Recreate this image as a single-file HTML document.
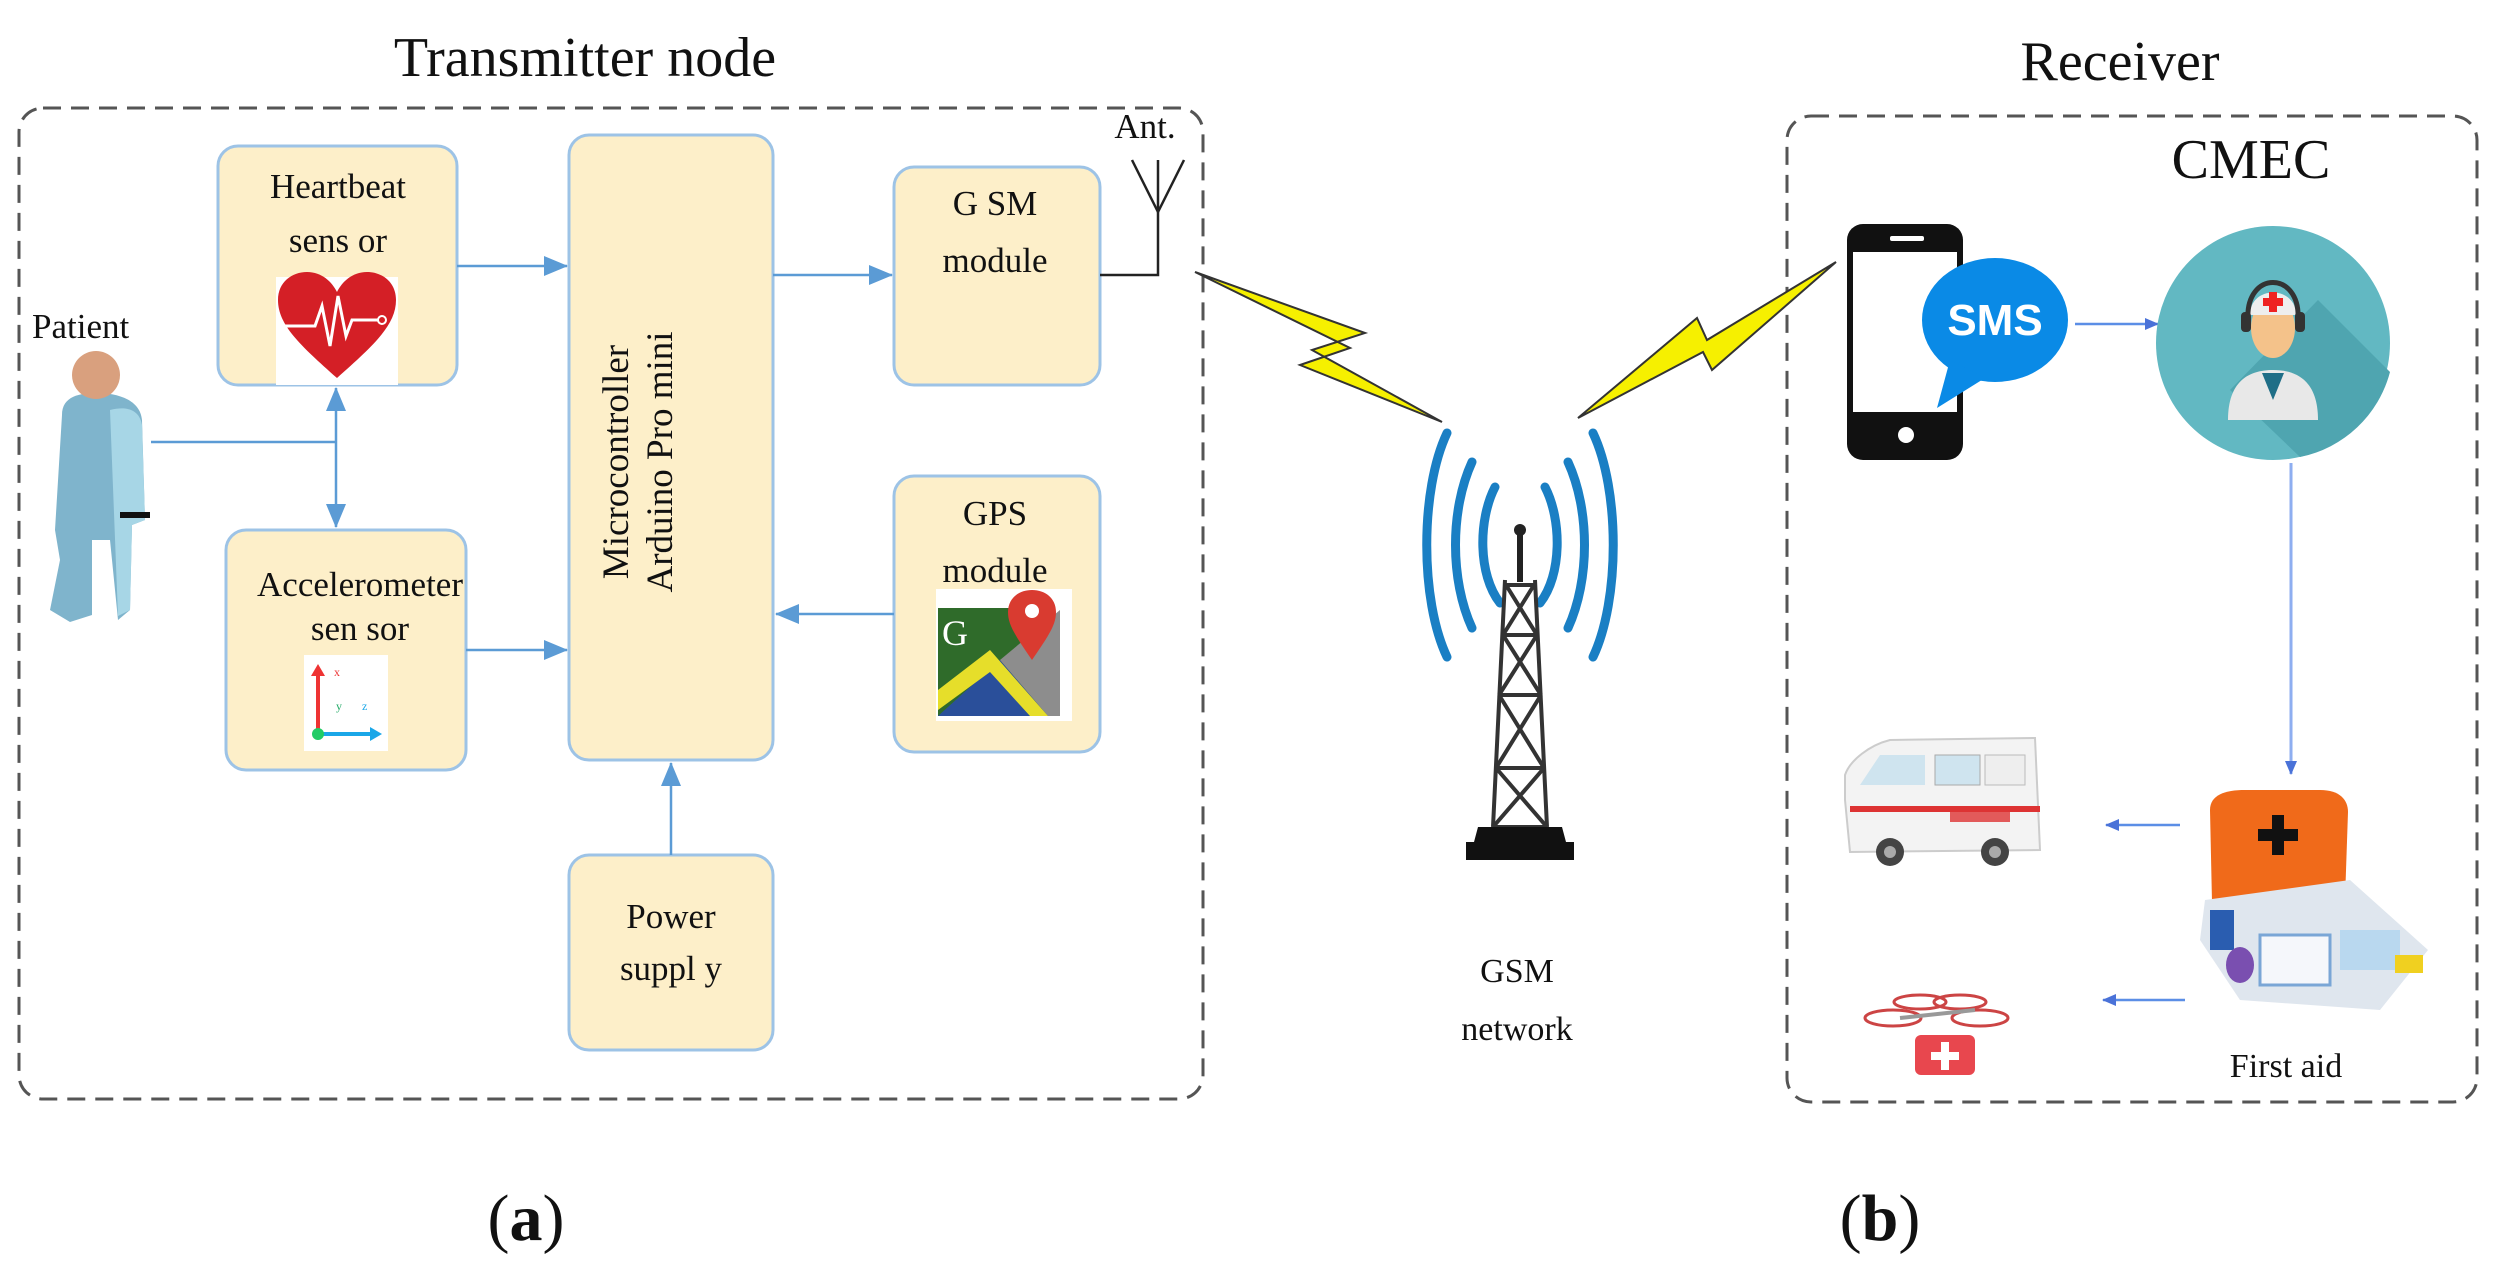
<!DOCTYPE html>
<html><head><meta charset="utf-8"><style>
html,body{margin:0;padding:0;background:#fff;}
svg{display:block;}
text{font-family:"Liberation Serif",serif;fill:#111;}
</style></head><body>
<svg width="2498" height="1279" viewBox="0 0 2498 1279" xmlns="http://www.w3.org/2000/svg">
<defs>
<marker id="ab" markerWidth="24" markerHeight="20" refX="23" refY="10" orient="auto" markerUnits="userSpaceOnUse">
<path d="M0,0 L24,10 L0,20 z" fill="#5b9bd5"/></marker>
<marker id="as" markerWidth="14" markerHeight="12" refX="13" refY="6" orient="auto" markerUnits="userSpaceOnUse">
<path d="M0,0 L14,6 L0,12 z" fill="#4a72d8"/></marker>
</defs>

<text x="585" y="76" font-size="56" text-anchor="middle">Transmitter node</text>
<text x="2120" y="80" font-size="56" text-anchor="middle">Receiver</text>
<text x="2251" y="178" font-size="56" text-anchor="middle">CMEC</text>

<rect x="19" y="108" width="1184" height="991" rx="24" fill="none" stroke="#555" stroke-width="3" stroke-dasharray="18,10"/>
<rect x="1787" y="116" width="690" height="986" rx="24" fill="none" stroke="#555" stroke-width="3" stroke-dasharray="18,10"/>

<g fill="#fdefc9" stroke="#9dc3e6" stroke-width="3">
<rect x="218" y="146" width="239" height="239" rx="20"/>
<rect x="569" y="135" width="204" height="625" rx="20"/>
<rect x="894" y="167" width="206" height="218" rx="20"/>
<rect x="226" y="530" width="240" height="240" rx="20"/>
<rect x="894" y="476" width="206" height="276" rx="20"/>
<rect x="569" y="855" width="204" height="195" rx="20"/>
</g>
<g font-size="35" text-anchor="middle">
<text x="338" y="198">Heartbeat</text>
<text x="338" y="252">sens or</text>
<text x="360" y="596">Accelerometer</text>
<text x="360" y="640">sen sor</text>
<text x="995" y="215">G SM</text>
<text x="995" y="272">module</text>
<text x="995" y="525">GPS</text>
<text x="995" y="582">module</text>
<text x="671" y="928">Power</text>
<text x="671" y="980">suppl y</text>
<text x="32" y="338" text-anchor="start">Patient</text>
<text x="1145" y="138">Ant.</text>
</g>
<text font-size="37" text-anchor="middle" transform="translate(628,462) rotate(-90)">Microcontroller</text>
<text font-size="37" text-anchor="middle" transform="translate(672,462) rotate(-90)">Arduino Pro mini</text>

<rect x="276" y="277" width="122" height="108" fill="#fff"/>
<path d="M337,378 C300,345 278,325 278,300 C278,282 292,272 307,272 C322,272 332,282 337,292 C342,282 352,272 367,272 C382,272 396,282 396,300 C396,325 374,345 337,378Z" fill="#d41f26"/>
<polyline points="282,326 315,326 322,306 330,346 338,296 346,336 352,320 378,320" fill="none" stroke="#fff" stroke-width="3"/>
<circle cx="382" cy="320" r="4" fill="none" stroke="#fff" stroke-width="2"/>

<rect x="304" y="655" width="84" height="96" fill="#fff"/>
<line x1="318" y1="732" x2="318" y2="672" stroke="#e33" stroke-width="4"/>
<path d="M311,676 L318,664 L325,676Z" fill="#e33"/>
<line x1="318" y1="734" x2="374" y2="734" stroke="#1aa7e8" stroke-width="4"/>
<path d="M370,727 L382,734 L370,741Z" fill="#1aa7e8"/>
<circle cx="318" cy="734" r="6" fill="#2c6" />
<text x="334" y="676" font-size="12" style="fill:#e33">x</text>
<text x="336" y="710" font-size="12" style="fill:#2a6">y</text>
<text x="362" y="710" font-size="12" style="fill:#1aa7e8">z</text>

<rect x="936" y="589" width="136" height="132" fill="#fff"/>
<path d="M938,608 L1048,608 L1048,716 L938,716Z" fill="#2f6b2a"/>
<path d="M938,716 L1000,660 L1048,716Z" fill="#2a4f9a"/>
<path d="M1000,660 L1060,610 L1060,716 L1048,716Z" fill="#8d8d8d"/>
<path d="M938,690 L990,650 L1048,716 L1030,716 L990,672 L938,710Z" fill="#e6de2a"/>
<text x="942" y="645" font-size="36" style="fill:#fff">G</text>
<path d="M1032,660 C1015,635 1008,625 1008,612 C1008,598 1019,590 1032,590 C1045,590 1056,598 1056,612 C1056,625 1049,635 1032,660Z" fill="#d93b30"/>
<circle cx="1032" cy="611" r="7" fill="#fff"/>

<g>
<path d="M62,415 C62,396 80,393 97,393 C114,393 140,398 142,420 L145,520 L132,525 L130,610 L118,620 L110,540 L92,540 L92,615 L70,622 L50,610 L60,560 L55,530 Z" fill="#7fb4cc"/>
<path d="M110,410 C130,405 140,412 142,425 L145,520 L132,525 L130,610 L118,616 Z" fill="#a7d6e6"/>
<circle cx="96" cy="375" r="24" fill="#d9a07e"/>
<rect x="120" y="512" width="30" height="6" fill="#111"/>
</g>

<g stroke="#5b9bd5" stroke-width="2.5" fill="none">
<line x1="457" y1="266" x2="567" y2="266" marker-end="url(#ab)"/>
<line x1="466" y1="650" x2="567" y2="650" marker-end="url(#ab)"/>
<line x1="773" y1="275" x2="892" y2="275" marker-end="url(#ab)"/>
<line x1="894" y1="614" x2="776" y2="614" marker-end="url(#ab)"/>
<line x1="671" y1="855" x2="671" y2="763" marker-end="url(#ab)"/>
<line x1="151" y1="442" x2="336" y2="442"/>
<line x1="336" y1="442" x2="336" y2="388" marker-end="url(#ab)"/>
<line x1="336" y1="442" x2="336" y2="527" marker-end="url(#ab)"/>
</g>
<g stroke="#222" stroke-width="2.5" fill="none">
<polyline points="1100,275 1158,275 1158,212"/>
<line x1="1158" y1="212" x2="1132" y2="160"/>
<line x1="1158" y1="212" x2="1184" y2="160"/>
<line x1="1158" y1="212" x2="1158" y2="160"/>
</g>

<path d="M1195,272 L1365,333 L1312,350 L1442,422 L1300,365 L1350,348 Z" fill="#f6f000" stroke="#333" stroke-width="2"/>
<path d="M1578,418 L1697,318 L1707,340 L1836,262 L1712,370 L1703,352 Z" fill="#f6f000" stroke="#333" stroke-width="2"/>

<g fill="none" stroke-linecap="round">
<g stroke="#1a7fc4" stroke-width="9">
<path d="M1447,433 C1420,490 1420,600 1447,657"/>
<path d="M1593,433 C1620,490 1620,600 1593,657"/>
<path d="M1472,462 C1450,510 1450,580 1472,628"/>
<path d="M1568,462 C1590,510 1590,580 1568,628"/>
<path d="M1495,487 C1478,520 1478,575 1500,603"/>
<path d="M1545,487 C1562,520 1562,575 1540,603"/>
</g>
</g>
<line x1="1520" y1="530" x2="1520" y2="582" stroke="#222" stroke-width="6"/>
<circle cx="1520" cy="530" r="6" fill="#222"/>
<g stroke="#333" stroke-width="4" fill="none">
<path d="M1505,580 L1493,827 M1535,580 L1547,827"/>
<path d="M1506,585 L1534,585 M1503,635 L1537,635 M1499,695 L1541,695 M1496,768 L1544,768 M1493,827 L1547,827"/>
<path d="M1506,585 L1537,635 M1534,585 L1503,635 M1503,635 L1541,695 M1537,635 L1499,695 M1499,695 L1544,768 M1541,695 L1496,768 M1496,768 L1547,827 M1544,768 L1493,827"/>
</g>
<path d="M1478,827 L1562,827 L1566,842 L1574,842 L1574,860 L1466,860 L1466,842 L1474,842Z" fill="#111"/>
<text x="1517" y="982" font-size="34" text-anchor="middle">GSM</text>
<text x="1517" y="1040" font-size="34" text-anchor="middle">network</text>

<rect x="1847" y="224" width="116" height="236" rx="16" fill="#111"/>
<rect x="1853" y="252" width="104" height="160" fill="#fff"/>
<rect x="1890" y="236" width="34" height="5" rx="2" fill="#fff"/>
<circle cx="1906" cy="435" r="8" fill="#fff"/>
<ellipse cx="1995" cy="320" rx="73" ry="62" fill="#0a8ae6"/>
<path d="M1950,360 L1937,408 L1985,378Z" fill="#0a8ae6"/>
<text x="1995" y="335" font-size="44" font-weight="bold" text-anchor="middle" style="fill:#fff;font-family:'Liberation Sans',sans-serif">SMS</text>
<line x1="2075" y1="324" x2="2158" y2="324" stroke="#5b8ee6" stroke-width="2.5" marker-end="url(#as)"/>

<circle cx="2273" cy="343" r="117" fill="#62b8c2"/>
<path d="M2318,300 L2390,372 A117,117 0 0 1 2300,457 L2230,390Z" fill="#4fa5b0"/>
<path d="M2228,420 C2228,380 2250,370 2273,370 C2296,370 2318,380 2318,420 Z" fill="#e8e8e8"/>
<path d="M2262,373 L2273,400 L2284,373Z" fill="#1f6e87"/>
<ellipse cx="2273" cy="328" rx="22" ry="30" fill="#f4c28a"/>
<path d="M2250,315 C2250,285 2296,285 2296,315Z" fill="#eee"/>
<path d="M2269,292 h8 v6 h6 v8 h-6 v6 h-8 v-6 h-6 v-8 h6z" fill="#e22"/>
<path d="M2248,320 C2245,270 2301,270 2298,320" fill="none" stroke="#333" stroke-width="5"/>
<rect x="2241" y="312" width="10" height="20" rx="4" fill="#333"/>
<rect x="2295" y="312" width="10" height="20" rx="4" fill="#333"/>
<line x1="2291" y1="463" x2="2291" y2="774" stroke="#8eaef0" stroke-width="3" marker-end="url(#as)"/>

<path d="M1845,800 L1845,775 C1850,760 1870,745 1890,740 L2035,738 L2040,850 L1850,852Z" fill="#f3f3f3" stroke="#ccc" stroke-width="2"/>
<rect x="1935" y="755" width="45" height="30" fill="#cfe4ef" stroke="#aaa"/>
<rect x="1985" y="755" width="40" height="30" fill="#eee" stroke="#bbb"/>
<path d="M1880,755 L1925,755 L1925,785 L1860,785Z" fill="#cfe4ef"/>
<rect x="1850" y="806" width="190" height="6" fill="#d33"/>
<rect x="1950" y="812" width="60" height="10" fill="#d33" opacity="0.8"/>
<circle cx="1890" cy="852" r="14" fill="#444"/><circle cx="1995" cy="852" r="14" fill="#444"/>
<circle cx="1890" cy="852" r="6" fill="#aaa"/><circle cx="1995" cy="852" r="6" fill="#aaa"/>
<line x1="2180" y1="825" x2="2106" y2="825" stroke="#5b8ee6" stroke-width="2.5" marker-end="url(#as)"/>

<g stroke="#c44" stroke-width="3" fill="none">
<ellipse cx="1893" cy="1018" rx="28" ry="8"/><ellipse cx="1980" cy="1018" rx="28" ry="8"/>
<ellipse cx="1920" cy="1002" rx="26" ry="7"/><ellipse cx="1960" cy="1002" rx="26" ry="7"/>
</g>
<line x1="1900" y1="1018" x2="1975" y2="1010" stroke="#999" stroke-width="4"/>
<rect x="1915" y="1035" width="60" height="40" rx="6" fill="#e8474e"/>
<path d="M1941,1042 h8 v10 h10 v8 h-10 v10 h-8 v-10 h-10 v-8 h10z" fill="#fff"/>
<line x1="2185" y1="1000" x2="2103" y2="1000" stroke="#5b8ee6" stroke-width="2.5" marker-end="url(#as)"/>

<path d="M2210,810 C2210,795 2225,790 2245,790 L2320,790 C2340,790 2348,800 2348,812 L2345,900 L2212,902Z" fill="#f06a1a"/>
<path d="M2272,815 h12 v14 h14 v12 h-14 v14 h-12 v-14 h-14 v-12 h14z" fill="#111"/>
<path d="M2205,900 L2350,880 L2428,950 L2380,1010 L2240,1000 L2200,940Z" fill="#dfe6ee"/>
<rect x="2210" y="910" width="24" height="40" fill="#2a5db0"/>
<rect x="2260" y="935" width="70" height="50" fill="#f5f7fb" stroke="#7aa6d6" stroke-width="3"/>
<rect x="2340" y="930" width="60" height="40" fill="#b9d8ef"/>
<ellipse cx="2240" cy="965" rx="14" ry="18" fill="#7a4fb0"/>
<rect x="2395" y="955" width="28" height="18" fill="#f0d020"/>
<text x="2286" y="1077" font-size="34" text-anchor="middle">First aid</text>

<text x="526" y="1240" font-size="66" text-anchor="middle">(<tspan font-weight="bold">a</tspan>)</text>
<text x="1880" y="1240" font-size="66" text-anchor="middle">(<tspan font-weight="bold">b</tspan>)</text>
</svg>
</body></html>
